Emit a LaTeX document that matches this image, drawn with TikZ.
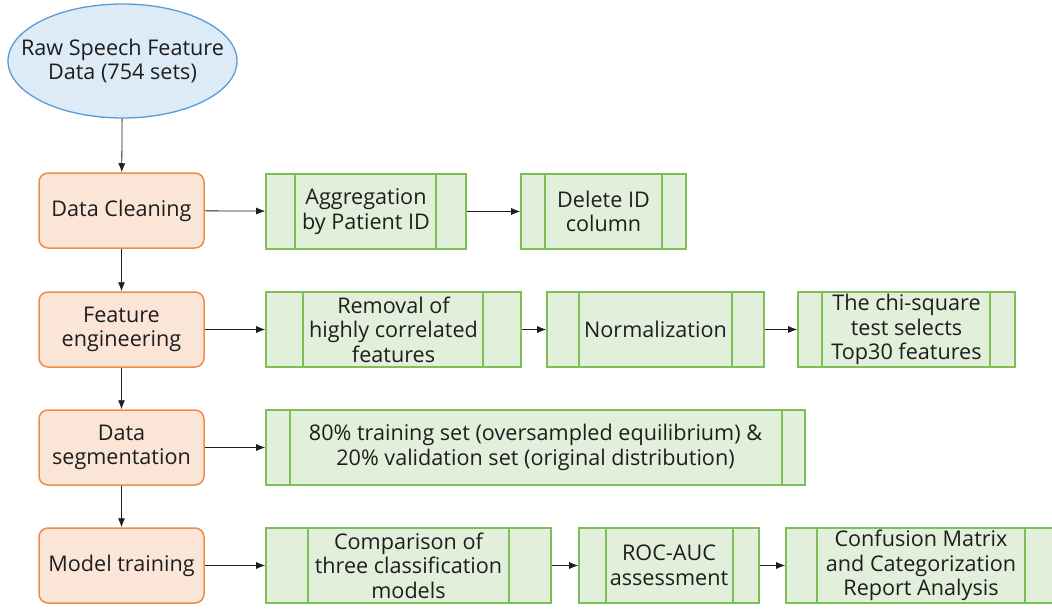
\documentclass[tikz,border=0pt]{standalone}
\usepackage{fontspec}
\setmainfont{Open Sans}
\usetikzlibrary{shapes.geometric,arrows.meta}
\definecolor{blue1}{RGB}{221,235,247}
\definecolor{blue2}{RGB}{91,155,213}
\definecolor{orange1}{RGB}{251,229,214}
\definecolor{orange2}{RGB}{240,140,70}
\definecolor{green1}{RGB}{226,239,218}
\definecolor{green2}{RGB}{125,190,85}
\definecolor{ink}{RGB}{30,30,30}
\begin{document}
\begin{tikzpicture}[x=1pt,y=-1pt,
  every node/.style={font=\fontsize{21.6}{24.5}\selectfont, text=ink, align=center},
  start/.style={ellipse, draw=blue2, fill=blue1, line width=1.3pt, minimum width=229pt, minimum height=114pt, inner xsep=-22pt, inner ysep=0pt},
  stage/.style={rectangle, rounded corners=9pt, draw=orange2, fill=orange1, line width=1.5pt, minimum width=165pt, minimum height=75pt, inner sep=0pt},
  proc/.style={rectangle, draw=green2, fill=green1, line width=1.6pt, minimum height=75pt, inner sep=0pt},
  side/.style={draw=green2, line width=1.6pt},
  arr/.style={draw=ink, line width=0.8pt, -{Latex[length=9pt,width=7pt]}}]
\useasboundingbox (0,0) rectangle (1052,610);
\node[start] (raw) at (122.5,61) {Raw Speech Feature\\Data (754 sets)};
\node[stage] (clean) at (121.5,210.5) {Data Cleaning};
\node[stage] (feat) at (121.5,329.5) {Feature\\engineering};
\node[stage] (seg) at (121.5,447.5) {Data\\segmentation};
\node[stage] (train) at (121.5,565.5) {Model training};

\node[proc, minimum width=200pt] (agg) at (366,211.5) {Aggregation\\by Patient ID};
\node[proc, minimum width=165pt] (del) at (603.5,211.5) {Delete ID\\column};
\node[proc, minimum width=255pt] (rem) at (393.5,329.5) {Removal of\\highly correlated\\features};
\node[proc, minimum width=217pt] (norm) at (655.5,329.5) {Normalization};
\node[proc, minimum width=217pt] (chi) at (906.5,329.5) {The chi-square\\test selects\\Top30 features};
\node[proc, minimum width=539pt] (split) at (535.5,447.5) {80\% training set (oversampled equilibrium) \&\\20\% validation set (original distribution)};
\node[proc, minimum width=285pt] (comp) at (408.5,565.5) {Comparison of\\three classification\\models};
\node[proc, minimum width=180pt] (roc) at (669,565.5) {ROC-AUC\\assessment};
\node[proc, minimum width=270pt] (conf) at (921,565.5) {Confusion Matrix\\and Categorization\\Report Analysis};

\foreach \n/\l/\r in {agg/30/31,del/25/25,rem/38/39,norm/33/33,chi/25/26,split/25/24,comp/43/43,roc/28/27,conf/32/32}
{
\draw[side] ([xshift=\l pt]\n.north west) -- ([xshift=\l pt]\n.south west);
\draw[side] ([xshift=-\r pt]\n.north east) -- ([xshift=-\r pt]\n.south east);
}

\draw[arr] (raw) -- (clean);
\draw[arr] (clean) -- (feat);
\draw[arr] (feat) -- (seg);
\draw[arr] (seg) -- (train);
\draw[arr] (clean) -- (agg);
\draw[arr] (agg) -- (del);
\draw[arr] (feat) -- (rem);
\draw[arr] (rem) -- (norm);
\draw[arr] (norm) -- (chi);
\draw[arr] (seg) -- (split);
\draw[arr] (train) -- (comp);
\draw[arr] (comp) -- (roc);
\draw[arr] (roc) -- (conf);
\end{tikzpicture}
\end{document}
